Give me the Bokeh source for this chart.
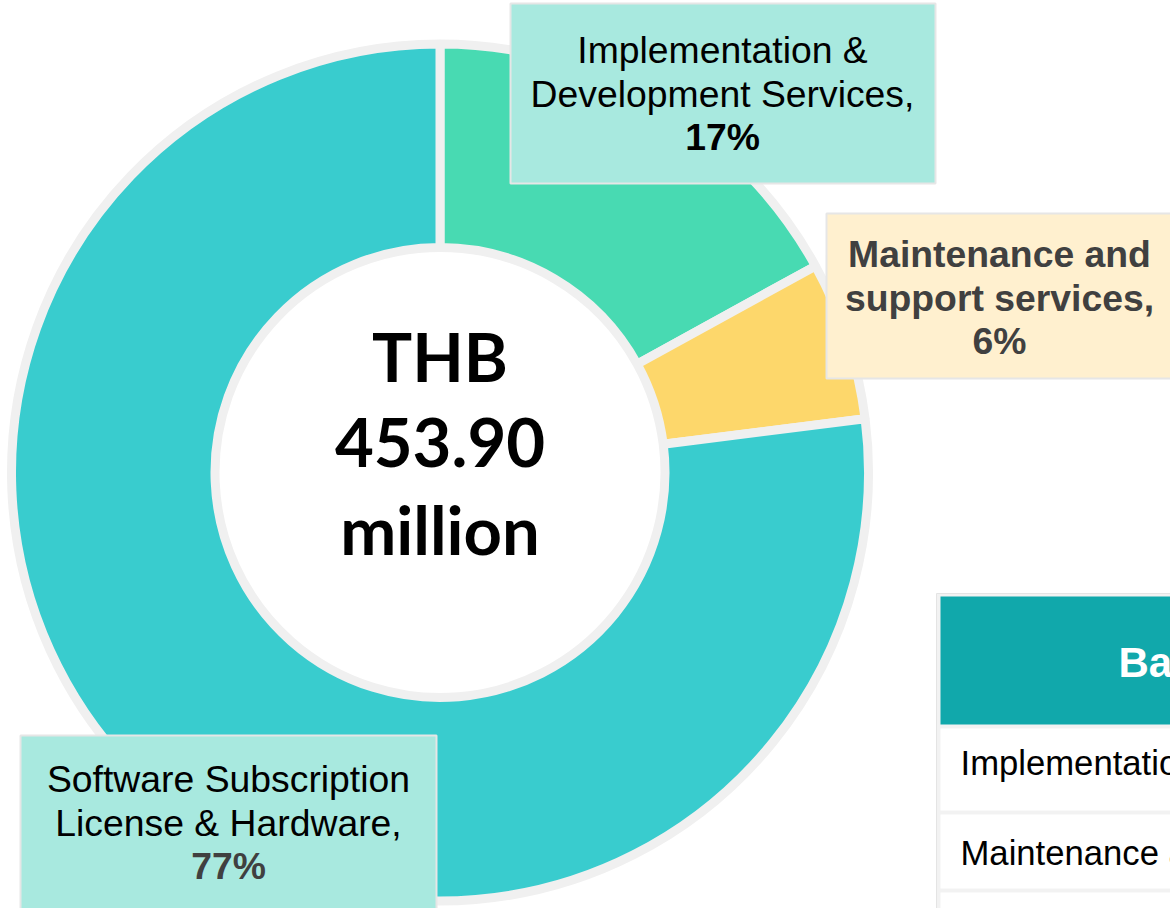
import numpy as np
from bokeh.plotting import figure
from bokeh.models import Range1d, ColumnDataSource
from bokeh.core.properties import value
from bokeh.embed import file_html
from bokeh.resources import INLINE

# ---------------- data ----------------
categories = [
    "Implementation & Development Services",
    "Maintenance and support services",
    "Software Subscription License & Hardware",
]
shares = [17, 6, 77]  # percent
slice_colors = ["#48DAB2", "#FDD76B", "#39CCCE"]
center_lines = ["THB", "453.90", "million"]
label_lines = [
    ["Implementation &", "Development Services,"],
    ["Maintenance and", "support services,"],
    ["Software Subscription", "License & Hardware,"],
]
table_header = "Backlog"
table_rows = ["Implementation & Development Services",
              "Maintenance and support services",
              "Software Subscription License & Hardware"]

# ---------------- layout helpers ----------------
W, H = 1170, 908


def Y(ys):
    # screen y (from top of picture) -> data y
    return H - ys


p = figure(width=W, height=H, x_range=Range1d(0, W), y_range=Range1d(0, H),
           output_backend="svg", toolbar_location=None,
           x_axis_type=None, y_axis_type=None, min_border=0,
           outline_line_color=None, background_fill_color="white",
           border_fill_color="white")
p.grid.visible = False


def txt(x, baseline, t, size, font, bold=False, color="black", align="center", k=0.35):
    p.text(x=[x], y=[Y(baseline - k * size)], text=[t], text_font=value(font),
           text_font_size=f"{size}px", text_font_style="bold" if bold else "normal",
           text_color=color, text_align=align, text_baseline="middle")


# ---------------- donut ----------------
frac = np.array(shares, dtype=float) / sum(shares)
cum = np.concatenate([[0.0], np.cumsum(frac)])
a_start = np.pi / 2 - 2 * np.pi * cum[:-1]
a_end = np.pi / 2 - 2 * np.pi * cum[1:]
src = ColumnDataSource(dict(start=a_end, end=a_start, color=slice_colors, name=categories))
cx, cyp = 439.5, 472
p.annular_wedge(x=cx, y=Y(cyp), inner_radius=225, outer_radius=428.5,
                start_angle="start", end_angle="end", direction="anticlock",
                fill_color="color", line_color="#F0F0F0", line_width=9, source=src)

# center text
for i, t in enumerate(center_lines):
    txt(cx, 380 + 86.5 * i, t, 67, "Lato", bold=True, k=0.37)

# ---------------- label boxes ----------------
LS = "Liberation Sans"
FS = 37.33
boxes = [
    dict(l=510, r=935, t=3, b=183, fill="#A8E9DF", tx=722, by=63, col="black", bold=False, pcol="black"),
    dict(l=826, r=1200, t=213, b=378, fill="#FFF0CF", tx=999, by=267, col="#404040", bold=True, pcol="#404040"),
    dict(l=20, r=436, t=735, b=960, fill="#A8E9DF", tx=228, by=792, col="black", bold=False, pcol="#404040"),
]
for i, bx in enumerate(boxes):
    p.quad(left=[bx["l"]], right=[bx["r"]], top=[Y(bx["t"])], bottom=[Y(bx["b"])],
           fill_color=bx["fill"], line_color="#E6E6E6", line_width=2)
    lines = label_lines[i] + [f"{shares[i]}%"]
    for j, t in enumerate(lines):
        is_pct = j == len(lines) - 1
        txt(bx["tx"], bx["by"] + 43.5 * j, t, FS, LS,
            bold=(bx["bold"] or is_pct),
            color=bx["pcol"] if is_pct else bx["col"])

# ---------------- table (partly outside the view) ----------------
p.quad(left=[936], right=[1300], top=[Y(593)], bottom=[Y(1000)],
       fill_color="#F2F2F2", line_color="#E4E4E4", line_width=1)
p.quad(left=[940], right=[1300], top=[Y(596)], bottom=[Y(724)],
       fill_color="#11A8AB", line_color=None)
txt(1118, 677, table_header, 42, LS, bold=True, color="white", align="left")
row_tops = [728, 814, 892]
row_bots = [810, 888, 970]
row_base = [775, 865, 945]
for k, t in enumerate(table_rows):
    p.quad(left=[940], right=[1300], top=[Y(row_tops[k])], bottom=[Y(row_bots[k])],
           fill_color="white", line_color=None)
    txt(960, row_base[k], t, 34.67, LS, align="left")

open("out.html", "w").write(file_html(p, INLINE))
